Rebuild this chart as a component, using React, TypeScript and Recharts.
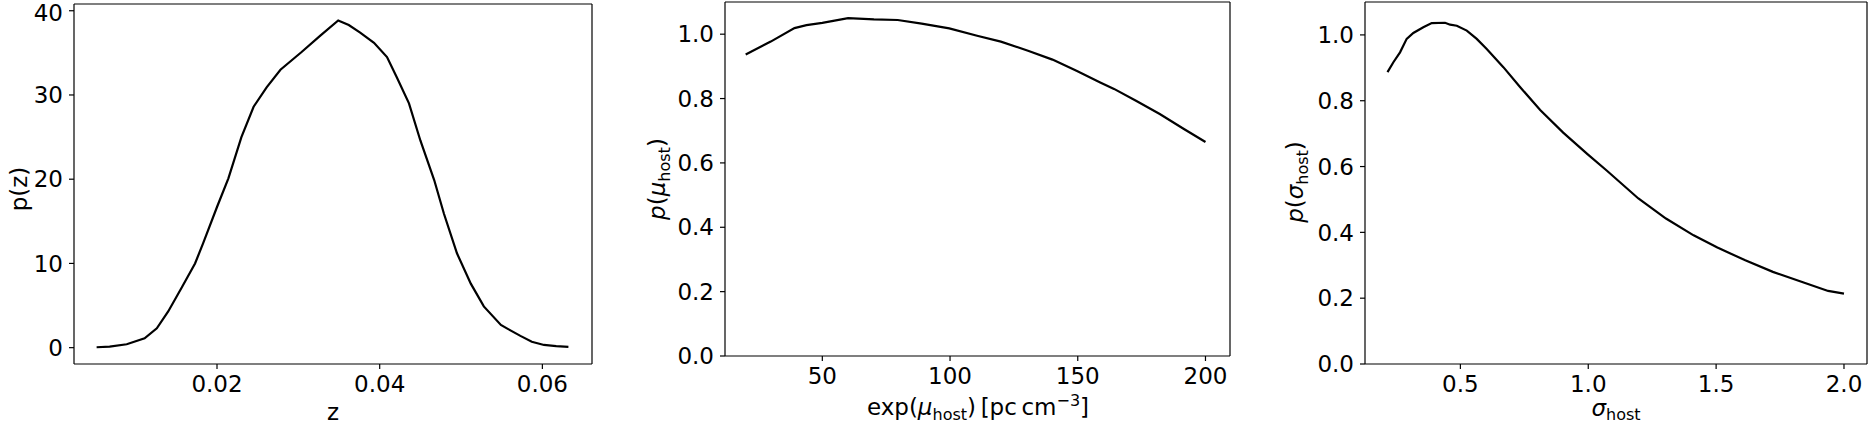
import { Line, LineChart, ReferenceLine, XAxis, YAxis } from "recharts";

// p(z) panel
const zValues = [
  0.0052, 0.0068, 0.0089, 0.0111, 0.0126, 0.014, 0.0157, 0.0173, 0.0183, 0.02,
  0.0214, 0.023, 0.0245, 0.0261, 0.0278, 0.0304, 0.0327, 0.0349, 0.0362, 0.0376,
  0.0393, 0.0409, 0.0421, 0.0436, 0.045, 0.0467, 0.0479, 0.0495, 0.0512, 0.0528,
  0.0549, 0.0558, 0.0573, 0.0587, 0.0602, 0.0617, 0.0632,
];
const pZ = [
  0.05, 0.12, 0.4, 1.1, 2.3, 4.3, 7.2, 10.0, 12.4, 16.7,
  20.1, 25.0, 28.6, 30.9, 33.0, 35.1, 37.05, 38.85, 38.3, 37.4,
  36.2, 34.5, 32.1, 29.0, 24.6, 19.9, 15.9, 11.2, 7.6, 4.9,
  2.7, 2.2, 1.4, 0.7, 0.32, 0.18, 0.1,
];
const zTicks = [0.02, 0.04, 0.06];
const pZTicks = [0, 10, 20, 30, 40];

// p(mu_host) panel
const muValues = [
  20, 29.8, 39.1, 43.8, 50, 60.1, 70.2, 79.5, 88.9, 99.7, 110.6, 119.9, 130.8,
  140.1, 149.5, 158.8, 164.2, 172.8, 182.1, 191.4, 200,
];
const pMu = [
  0.937, 0.977, 1.019, 1.028, 1.035, 1.05, 1.046, 1.044, 1.033, 1.018, 0.995,
  0.977, 0.948, 0.921, 0.886, 0.85, 0.83, 0.793, 0.752, 0.706, 0.665,
];
const muTicks = [50, 100, 150, 200];

// p(sigma_host) panel
const sigmaValues = [
  0.215, 0.238, 0.264, 0.29, 0.316, 0.355, 0.388, 0.44, 0.46, 0.486, 0.525,
  0.564, 0.603, 0.668, 0.734, 0.812, 0.902, 0.998, 1.072, 1.196, 1.304, 1.412,
  1.505, 1.614, 1.722, 1.845, 1.938, 2.0,
];
const pSigma = [
  0.887, 0.917, 0.947, 0.988, 1.006, 1.023, 1.036, 1.037, 1.031, 1.028, 1.013,
  0.988, 0.957, 0.902, 0.841, 0.772, 0.703, 0.637, 0.588, 0.503, 0.442, 0.391,
  0.354, 0.315, 0.28, 0.247, 0.222, 0.214,
];
const sigmaTicks = [0.5, 1.0, 1.5, 2.0];
const probTicks = [0, 0.2, 0.4, 0.6, 0.8, 1.0];

const zData = zValues.map((x, i) => ({ x, y: pZ[i] }));
const muData = muValues.map((x, i) => ({ x, y: pMu[i] }));
const sigmaData = sigmaValues.map((x, i) => ({ x, y: pSigma[i] }));

const FONT = "DejaVu Sans";
const tickStyle = { fill: "#000", fontSize: 23, fontFamily: FONT };
const axisStroke = { stroke: "#000", strokeWidth: 1.2 };

function YLabelZ() {
  return (
    <text x={27} y={189} transform="rotate(-90 27 189)" textAnchor="middle" fontSize={23} fontFamily={FONT} fill="#000">
      p(z)
    </text>
  );
}

function XLabelZ() {
  return (
    <text x={333} y={420} textAnchor="middle" fontSize={23} fontFamily={FONT} fill="#000">
      z
    </text>
  );
}

function YLabelMu() {
  return (
    <text x={45} y={179} transform="rotate(-90 45 179)" textAnchor="middle" fontSize={23} fontFamily={FONT} fill="#000">
      <tspan fontStyle="italic">p</tspan>
      <tspan>(</tspan>
      <tspan fontStyle="italic">μ</tspan>
      <tspan fontSize={16} dy={5}>host</tspan>
      <tspan dy={-5}>)</tspan>
    </text>
  );
}

function XLabelMu() {
  return (
    <text x={358} y={415} textAnchor="middle" fontSize={23} fontFamily={FONT} fill="#000">
      <tspan>exp(</tspan>
      <tspan fontStyle="italic">μ</tspan>
      <tspan fontSize={16} dy={5}>host</tspan>
      <tspan dy={-5}>){"\u2009"}[pc{"\u2009"}cm</tspan>
      <tspan fontSize={16} dy={-9}>−3</tspan>
      <tspan dy={9}>]</tspan>
    </text>
  );
}

function YLabelSigma() {
  return (
    <text x={53} y={182} transform="rotate(-90 53 182)" textAnchor="middle" fontSize={23} fontFamily={FONT} fill="#000">
      <tspan fontStyle="italic">p</tspan>
      <tspan>(</tspan>
      <tspan fontStyle="italic">σ</tspan>
      <tspan fontSize={16} dy={5}>host</tspan>
      <tspan dy={-5}>)</tspan>
    </text>
  );
}

function XLabelSigma() {
  return (
    <text x={366} y={416} textAnchor="middle" fontSize={23} fontFamily={FONT} fill="#000">
      <tspan fontStyle="italic">σ</tspan>
      <tspan fontSize={16} dy={4}>host</tspan>
    </text>
  );
}

type PanelProps = {
  data: { x: number; y: number }[];
  left: number;
  width: number;
  margin: { top: number; right: number; bottom: number; left: number };
  yWidth: number;
  xHeight: number;
  xDomain: [number, number];
  yDomain: [number, number];
  xTicks: number[];
  yTicks: number[];
  xFormat: (v: number) => string;
  yFormat: (v: number) => string;
  xLabel: React.ReactElement;
  yLabel: React.ReactElement;
};

function Panel(p: PanelProps) {
  return (
    <div style={{ position: "absolute", left: p.left, top: 0 }}>
      <LineChart width={p.width} height={424} data={p.data} margin={p.margin}>
        <XAxis
          dataKey="x"
          type="number"
          domain={p.xDomain}
          allowDataOverflow
          ticks={p.xTicks}
          tickFormatter={p.xFormat}
          height={p.xHeight}
          tickSize={5}
          tickMargin={7}
          tick={tickStyle}
          axisLine={axisStroke}
          tickLine={axisStroke}
          label={p.xLabel}
        />
        <YAxis
          type="number"
          domain={p.yDomain}
          allowDataOverflow
          ticks={p.yTicks}
          tickFormatter={p.yFormat}
          width={p.yWidth}
          tickSize={5}
          tickMargin={6}
          tick={tickStyle}
          axisLine={axisStroke}
          tickLine={axisStroke}
          label={p.yLabel}
        />
        {/* top and right edges of the frame */}
        <ReferenceLine y={p.yDomain[1]} stroke="#000" strokeWidth={1.2} ifOverflow="visible" />
        <ReferenceLine x={p.xDomain[1]} stroke="#000" strokeWidth={1.2} ifOverflow="visible" />
        <Line
          dataKey="y"
          type="linear"
          stroke="#000"
          strokeWidth={2.2}
          dot={false}
          isAnimationActive={false}
        />
      </LineChart>
    </div>
  );
}

export default function App() {
  return (
    <div style={{ position: "absolute", left: 0, top: 0, width: 1870, height: 424, background: "#fff" }}>
      <Panel
        data={zData}
        left={0}
        width={600}
        margin={{ top: 4, right: 8, bottom: 0, left: 0 }}
        yWidth={74}
        xHeight={60}
        xDomain={[0.00242, 0.0661]}
        yDomain={[-1.94, 40.8]}
        xTicks={zTicks}
        yTicks={pZTicks}
        xFormat={(v) => v.toFixed(2)}
        yFormat={(v) => String(v)}
        xLabel={<XLabelZ />}
        yLabel={<YLabelZ />}
      />
      <Panel
        data={muData}
        left={620}
        width={620}
        margin={{ top: 2, right: 10, bottom: 0, left: 0 }}
        yWidth={105}
        xHeight={68}
        xDomain={[11.9, 209.6]}
        yDomain={[0, 1.1]}
        xTicks={muTicks}
        yTicks={probTicks}
        xFormat={(v) => String(v)}
        yFormat={(v) => v.toFixed(1)}
        xLabel={<XLabelMu />}
        yLabel={<YLabelMu />}
      />
      <Panel
        data={sigmaData}
        left={1250}
        width={620}
        margin={{ top: 2, right: 3, bottom: 0, left: 0 }}
        yWidth={115}
        xHeight={60}
        xDomain={[0.127, 2.09]}
        yDomain={[0, 1.1]}
        xTicks={sigmaTicks}
        yTicks={probTicks}
        xFormat={(v) => v.toFixed(1)}
        yFormat={(v) => v.toFixed(1)}
        xLabel={<XLabelSigma />}
        yLabel={<YLabelSigma />}
      />
    </div>
  );
}
